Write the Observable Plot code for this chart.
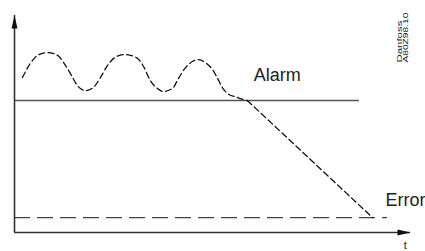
<!DOCTYPE html>
<html><head><meta charset="utf-8">
<script src="https://cdn.jsdelivr.net/npm/d3@7"></script>
<script src="https://cdn.jsdelivr.net/npm/@observablehq/plot@0.6"></script>
<style>html,body{margin:0;padding:0;background:#fff;} svg{display:block;}</style>
</head><body><div id="chart"></div>
<script>
// signal (dashed curve): wavy part
const time   = [0.20,0.40,0.58,0.83,1.09,1.24,1.41,1.59,1.79,1.99,2.17,2.35,2.53,2.78,3.08,3.26,3.43,3.61,3.76,3.99,4.14,4.32,4.49,4.65,4.82,5.00,5.13,5.25,5.38,5.63,5.88];
const signal = [7.14,7.79,8.16,8.29,8.16,7.83,7.33,6.77,6.54,6.68,7.14,7.70,8.06,8.20,8.06,7.65,7.00,6.64,6.50,6.64,7.10,7.60,7.88,7.97,7.83,7.51,7.10,6.68,6.41,6.22,6.08];
// straight fall after the alarm crossing
const fallTime   = [5.88, 9.04];
const fallSignal = [6.08, 0.69];
// levels
const alarmLevel = 6.08, alarmEnd = 8.71;
const errorLevel = 0.69, errorEnd = 9.42;
const axisMax = 10;
// labels
const labelText = ["Alarm", "Error"];
const labelX    = [6.04, 9.37];
const labelY    = [7.00, 1.20];
const axisLabel = "t", axisLabelX = 9.87, axisLabelY = -0.74;
const stampLines = ["Danfoss", "A80Z98.10"];
const stampX = [9.73, 9.87];
const stampY = 7.83;
const stampLength = [42, 50];

const signalData = time.map((t, i) => ({t, v: signal[i]}));
const fallData = fallTime.map((t, i) => ({t, v: fallSignal[i]}));
const labels = labelText.map((s, i) => ({s, x: labelX[i], y: labelY[i]}));
const stamps = stampLines.map((s, i) => ({s, x: stampX[i], y: stampY, len: stampLength[i]}));

const arrowHead = {
  draw(ctx) { ctx.moveTo(0, 0); ctx.lineTo(3, 13); ctx.lineTo(-3, 13); ctx.closePath(); }
};

const font = "'Liberation Sans', Arial, sans-serif";
const dash = "6,3.5";

const chart = Plot.plot({
  width: 425, height: 251,
  marginLeft: 14, marginRight: 15, marginTop: 15, marginBottom: 19,
  x: {domain: [0, axisMax], axis: null},
  y: {domain: [0, axisMax], axis: null},
  style: {background: "#fff", fontFamily: font},
  marks: [
    Plot.ruleY([alarmLevel], {x1: 0, x2: alarmEnd, stroke: "#555", strokeWidth: 1.4}),
    Plot.ruleY([errorLevel], {x1: 0, x2: errorEnd, stroke: "#444", strokeWidth: 1.3, strokeDasharray: "16,7"}),
    Plot.line(signalData, {x: "t", y: "v", curve: "monotone-x", stroke: "#111", strokeWidth: 1.3, strokeDasharray: dash}),
    Plot.line(fallData, {x: "t", y: "v", curve: "linear", stroke: "#111", strokeWidth: 1.3, strokeDasharray: dash}),
    Plot.ruleX([0], {y1: 0, y2: axisMax, stroke: "#333", strokeWidth: 1.6}),
    Plot.ruleY([0], {x1: 0, x2: axisMax, stroke: "#333", strokeWidth: 1.6}),
    Plot.dot([{x: 0, y: axisMax}], {x: "x", y: "y", symbol: arrowHead, fill: "#111", stroke: "none"}),
    Plot.dot([{x: axisMax, y: 0}], {x: "x", y: "y", symbol: arrowHead, rotate: 90, fill: "#111", stroke: "none"}),
    Plot.text(labels, {x: "x", y: "y", text: "s", fontSize: 18, textAnchor: "start", lineAnchor: "bottom", fill: "#222", fontFamily: font}),
    Plot.text([axisLabel], {x: () => axisLabelX, y: () => axisLabelY, text: d => d, fontSize: 11, textAnchor: "middle", lineAnchor: "bottom", fill: "#222", fontFamily: font}),
    Plot.text(stamps, {x: "x", y: "y", text: "s", rotate: -90, fontSize: 7, textAnchor: "start", lineAnchor: "middle", fill: "#222", fontFamily: font})
  ]
});
document.getElementById("chart").appendChild(chart);
// stretch the small stamp text along its length as in the reference
d3.select(chart).selectAll("text").each(function() {
  const s = stamps.find(d => d.s === this.textContent);
  if (s) { this.setAttribute("textLength", s.len); this.setAttribute("lengthAdjust", "spacingAndGlyphs"); }
});
</script>
</body></html>
